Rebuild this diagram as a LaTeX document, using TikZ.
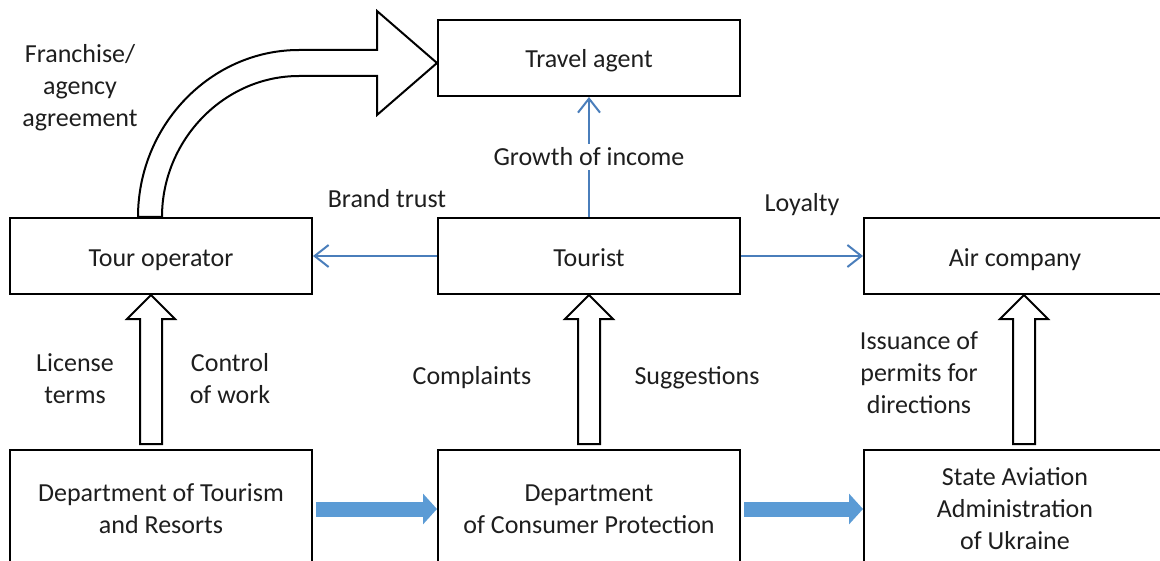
\documentclass[tikz,border=0pt]{standalone}
\usepackage{fontspec}
\setmainfont{Carlito}
\usetikzlibrary{positioning,calc,arrows.meta}

\definecolor{linkblue}{RGB}{74,126,187}
\definecolor{flowblue}{RGB}{91,155,213}
\definecolor{inkgray}{RGB}{30,30,30}

% hollow block arrow pointing up: #1 foot, #2 tip
\newcommand{\hollowup}[2]{%
   \draw[hollow] ($(#1)+(-11,0)$) -- ($(#2)+(-11,24)$) -- ($(#2)+(-24,24)$) -- (#2)
      -- ($(#2)+(24,24)$) -- ($(#2)+(11,24)$) -- ($(#1)+(11,0)$) -- cycle;}

\begin{document}
\begin{tikzpicture}[x=0.5pt, y=-0.5pt,
         every node/.style = {font=\fontsize{13pt}{16pt}\selectfont, text=inkgray},
         frame/.style = {draw=black, line width=1pt, minimum width=151pt, minimum height=38pt,
            align=center, inner sep=0pt},
         box/.style = {frame, text height=12pt, text depth=2pt},
         tallbox/.style = {frame, minimum height=59pt},
         link/.style = {linkblue, line width=1pt, -{Straight Barb[length=7pt,width=11pt]}},
         flow/.style = {flowblue, line width=7.5pt, -{Triangle[length=7pt,width=15pt]},
            shorten <=1.5pt},
         hollow/.style = {draw, line width=1pt, fill=white, line join=miter},
         note/.style = {align=center, inner sep=0pt}
]

      \clip (0,0) rectangle (1160,561);

      % middle row
      \node[box]                        (tourist) at (589,256) {Tourist};
      \node[box, left=62pt of tourist]  (tourop)  {Tour operator};
      \node[box, right=61pt of tourist] (aircomp) {Air company};
      \node[box, above=60pt of tourist] (agent)   {Travel agent};

      % bottom row
      \node[tallbox, below=77pt of tourist]  (consumer) {Department\\of Consumer Protection};
      \node[tallbox, left=62pt of consumer]  (tourism)  {Department of Tourism\\and Resorts};
      \node[tallbox, right=61pt of consumer] (aviation) {State Aviation\\Administration\\of Ukraine};

      % tourist links
      \draw[link] (tourist) -- (agent);
      \draw[link] (tourist) -- (tourop);
      \draw[link] (tourist) -- (aircomp);

      % departments
      \draw[flow] (tourism)  -- (consumer);
      \draw[flow] (consumer) -- (aviation);

      % control arrows
      \coordinate (optip)   at ($(tourop.south)+(-10,0)$);
      \coordinate (opfoot)  at ($(tourism.north)+(-10,-5)$);
      \coordinate (tutip)   at (tourist.south);
      \coordinate (tufoot)  at ($(consumer.north)+(0,-5)$);
      \coordinate (airtip)  at ($(aircomp.south)+(9,0)$);
      \coordinate (airfoot) at ($(aviation.north)+(9,-5)$);
      \hollowup{opfoot}{optip}
      \hollowup{tufoot}{tutip}
      \hollowup{airfoot}{airtip}

      % franchise arrow
      \coordinate (fr0)   at ($(tourop.north)+(-23,0)$);
      \coordinate (fr1)   at ($(tourop.north)+(1,0)$);
      \coordinate (frtip) at ($(agent.west)+(0,5)$);
      \draw[hollow] (fr0) .. controls +(0,-92) and +(-88,0) .. ($(frtip)+(-138,-13)$)
         -- ($(frtip)+(-60,-13)$) -- ($(frtip)+(-60,-52)$) -- (frtip)
         -- ($(frtip)+(-60,52)$) -- ($(frtip)+(-60,13)$) -- ($(frtip)+(-138,13)$)
         .. controls +(-75,0) and +(0,-77) .. (fr1) -- cycle;

      % labels
      \node[note] (lfranchise) at (80,88)   {Franchise/\\agency\\agreement};
      \node[note, fill=white, inner sep=2pt] (lgrowth) at (589,157) {Growth of income};
      \node[note] (lbrand)     at (387,199) {Brand trust};
      \node[note] (lloyal)     at (802,205) {Loyalty};
      \node[note] (llicense)   at (75,379)  {License\\terms};
      \node[note] (lcontrol)   at (230,379) {Control\\of work};
      \node[note] (lcomplaint) at (472,378) {Complaints};
      \node[note] (lsuggest)   at (697,378) {Suggestions};
      \node[note] (lissue)     at (919,373) {Issuance of\\permits for\\directions};

\end{tikzpicture}
\end{document}
